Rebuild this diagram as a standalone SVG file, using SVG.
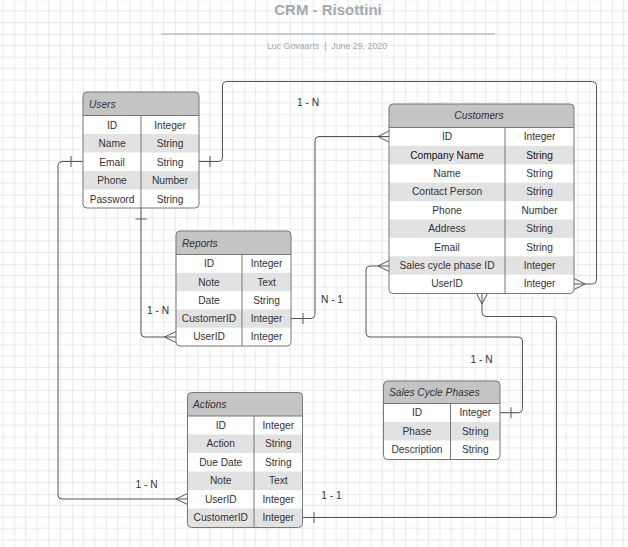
<svg xmlns="http://www.w3.org/2000/svg" width="628" height="547" viewBox="0 0 628 547">
<defs>
<pattern id="grid" patternUnits="userSpaceOnUse" x="14.3" y="34" width="57.5" height="57.5">
<path d="M11.5,0V57.5M23,0V57.5M34.5,0V57.5M46,0V57.5M0,11.5H57.5M0,23H57.5M0,34.5H57.5M0,46H57.5" stroke="#e9e9e9" stroke-width="1" fill="none"/>
<path d="M0,0V57.5M0,0H57.5" stroke="#d9d9d9" stroke-width="1" fill="none"/>
</pattern>
<clipPath id="cpU"><rect x="83" y="92" width="116" height="116" rx="4"/></clipPath>
<clipPath id="cpC"><rect x="389" y="104" width="185" height="189.5" rx="4"/></clipPath>
<clipPath id="cpR"><rect x="176" y="231" width="115" height="115" rx="4"/></clipPath>
<clipPath id="cpA"><rect x="187.5" y="392.5" width="115" height="135" rx="4"/></clipPath>
<clipPath id="cpS"><rect x="383.5" y="381" width="116.5" height="78.5" rx="4"/></clipPath>
</defs>
<style>
.bg{fill:#ffffff}
.frame{fill:none;stroke:#777777;stroke-width:1}
.hdr{fill:#c4c4c4}
.sh{fill:#e2e2e2}
.ln{stroke:#777777;stroke-width:1;fill:none}
.t{font-family:"Liberation Sans",Arial,sans-serif;font-size:10.2px;fill:#333333;text-anchor:middle}
.tb{fill:#111111}
.h{font-family:"Liberation Sans",Arial,sans-serif;font-size:10.2px;font-style:italic;fill:#333333}
.hc{text-anchor:middle}
.c{stroke:#555555;stroke-width:1;fill:none}
.lbl{font-family:"Liberation Sans",Arial,sans-serif;font-size:10.2px;fill:#333333;text-anchor:middle}
</style>
<rect width="628" height="547" fill="#ffffff"/>
<rect width="628" height="547" fill="url(#grid)"/>

<g id="title">
<text x="328" y="15" font-family="Liberation Sans, Arial, sans-serif" font-size="15" font-weight="bold" fill="#a3a9b1" text-anchor="middle">CRM - Risottini</text>
<line x1="161" y1="34" x2="495" y2="34" stroke="#9ba1a9" stroke-width="1"/>
<text x="327" y="49" font-family="Liberation Sans, Arial, sans-serif" font-size="8.8" fill="#a3a9b1" text-anchor="middle" xml:space="preserve">Luc Govaarts  |  June 29, 2020</text>
</g>

<g id="connectors">
<path class="c" d="M199,161.5H218.5Q222.5,161.5 222.5,157.5V85.5Q222.5,81.5 226.5,81.5H592.5Q596.5,81.5 596.5,85.5V280Q596.5,284 592.5,284H574"/>
<path class="c" d="M210,156V167M585,284L574,278.5M585,284L574,289.5"/>
<path class="c" d="M291,318.5H311Q315,318.5 315,314.5V140.5Q315,136.5 319,136.5H389"/>
<path class="c" d="M303,313V324M378,136.5L389,131M378,136.5L389,142"/>
<path class="c" d="M389,266H370Q366,266 366,270V333Q366,337 370,337H518.5Q522.5,337 522.5,341V408.7Q522.5,412.7 518.5,412.7H500"/>
<path class="c" d="M511,407.2V418.2M378,266L389,260.5M378,266L389,271.5"/>
<path class="c" d="M141,208V333Q141,337 145,337H176"/>
<path class="c" d="M135.5,219H146.5M164.5,337L176,331.5M164.5,337L176,342.5"/>
<path class="c" d="M83,161.5H62Q58,161.5 58,165.5V495Q58,499 62,499H187.5"/>
<path class="c" d="M71,156V167M176,499L187.5,493.5M176,499L187.5,504.5"/>
<path class="c" d="M482,293.5V312.5Q482,316.5 486,316.5H552.5Q556.5,316.5 556.5,320.5V513.5Q556.5,517.5 552.5,517.5H302.5"/>
<path class="c" d="M314,512V523M482,304L476.5,293.5M482,304L487.5,293.5"/>
<text class="lbl" x="308" y="105.5">1 - N</text>
<text class="lbl" x="332" y="302.5">N - 1</text>
<text class="lbl" x="481.5" y="362.5">1 - N</text>
<text class="lbl" x="158" y="313.5">1 - N</text>
<text class="lbl" x="146.5" y="487.5">1 - N</text>
<text class="lbl" x="331.5" y="498.5">1 - 1</text>
</g>

<g id="users">
<g clip-path="url(#cpU)">
<rect class="bg" x="83" y="92" width="116" height="116"/>
<rect class="hdr" x="83" y="92" width="116" height="23.5"/>
<rect class="sh" x="83" y="134" width="116" height="18.5"/>
<rect class="sh" x="83" y="171" width="116" height="18.5"/>
</g>
<line class="ln" x1="83" y1="115.5" x2="199" y2="115.5"/>
<line class="ln" x1="141" y1="115.5" x2="141" y2="208"/>
<rect class="frame" x="83" y="92" width="116" height="116" rx="4"/>
<text class="h" x="89" y="107.5">Users</text>
<text class="t" x="112" y="128.5">ID</text><text class="t" x="170" y="128.5">Integer</text>
<text class="t" x="112" y="147">Name</text><text class="t" x="170" y="147">String</text>
<text class="t" x="112" y="165.5">Email</text><text class="t" x="170" y="165.5">String</text>
<text class="t" x="112" y="184">Phone</text><text class="t" x="170" y="184">Number</text>
<text class="t" x="112" y="202.5">Password</text><text class="t" x="170" y="202.5">String</text>
</g>

<g id="customers">
<g clip-path="url(#cpC)">
<rect class="bg" x="389" y="104" width="185" height="189.5"/>
<rect class="hdr" x="389" y="104" width="185" height="23.5"/>
<rect class="sh" x="389" y="145.9" width="185" height="18.4"/>
<rect class="sh" x="389" y="182.7" width="185" height="18.4"/>
<rect class="sh" x="389" y="219.5" width="185" height="18.4"/>
<rect class="sh" x="389" y="256.3" width="185" height="18.4"/>
</g>
<line class="ln" x1="389" y1="127.5" x2="574" y2="127.5"/>
<line class="ln" x1="505" y1="127.5" x2="505" y2="293.5"/>
<rect class="frame" x="389" y="104" width="185" height="189.5" rx="4"/>
<text class="h hc" x="479" y="119">Customers</text>
<text class="t" x="447" y="140.2">ID</text><text class="t" x="539.5" y="140.2">Integer</text>
<text class="t tb" x="447" y="158.6">Company Name</text><text class="t tb" x="539.5" y="158.6">String</text>
<text class="t" x="447" y="177">Name</text><text class="t" x="539.5" y="177">String</text>
<text class="t" x="447" y="195.4">Contact Person</text><text class="t" x="539.5" y="195.4">String</text>
<text class="t" x="447" y="213.8">Phone</text><text class="t" x="539.5" y="213.8">Number</text>
<text class="t" x="447" y="232.2">Address</text><text class="t" x="539.5" y="232.2">String</text>
<text class="t" x="447" y="250.6">Email</text><text class="t" x="539.5" y="250.6">String</text>
<text class="t" x="447" y="269">Sales cycle phase ID</text><text class="t" x="539.5" y="269">Integer</text>
<text class="t" x="447" y="287.4">UserID</text><text class="t" x="539.5" y="287.4">Integer</text>
</g>

<g id="reports">
<g clip-path="url(#cpR)">
<rect class="bg" x="176" y="231" width="115" height="115"/>
<rect class="hdr" x="176" y="231" width="115" height="23.5"/>
<rect class="sh" x="176" y="272.8" width="115" height="18.3"/>
<rect class="sh" x="176" y="309.4" width="115" height="18.3"/>
</g>
<line class="ln" x1="176" y1="254.5" x2="291" y2="254.5"/>
<line class="ln" x1="242" y1="254.5" x2="242" y2="346"/>
<rect class="frame" x="176" y="231" width="115" height="115" rx="4"/>
<text class="h" x="182" y="246.5">Reports</text>
<text class="t" x="209" y="267.2">ID</text><text class="t" x="266.5" y="267.2">Integer</text>
<text class="t" x="209" y="285.5">Note</text><text class="t" x="266.5" y="285.5">Text</text>
<text class="t" x="209" y="303.8">Date</text><text class="t" x="266.5" y="303.8">String</text>
<text class="t" x="209" y="322.1">CustomerID</text><text class="t" x="266.5" y="322.1">Integer</text>
<text class="t" x="209" y="340.4">UserID</text><text class="t" x="266.5" y="340.4">Integer</text>
</g>

<g id="actions">
<g clip-path="url(#cpA)">
<rect class="bg" x="187.5" y="392.5" width="115" height="135"/>
<rect class="hdr" x="187.5" y="392.5" width="115" height="23.5"/>
<rect class="sh" x="187.5" y="434.5" width="115" height="18.5"/>
<rect class="sh" x="187.5" y="471.5" width="115" height="18.5"/>
<rect class="sh" x="187.5" y="508.5" width="115" height="19"/>
</g>
<line class="ln" x1="187.5" y1="416" x2="302.5" y2="416"/>
<line class="ln" x1="254" y1="416" x2="254" y2="527.5"/>
<rect class="frame" x="187.5" y="392.5" width="115" height="135" rx="4"/>
<text class="h" x="193" y="408">Actions</text>
<text class="t" x="220.75" y="428.8">ID</text><text class="t" x="278.25" y="428.8">Integer</text>
<text class="t" x="220.75" y="447.3">Action</text><text class="t" x="278.25" y="447.3">String</text>
<text class="t" x="220.75" y="465.8">Due Date</text><text class="t" x="278.25" y="465.8">String</text>
<text class="t" x="220.75" y="484.3">Note</text><text class="t" x="278.25" y="484.3">Text</text>
<text class="t" x="220.75" y="502.8">UserID</text><text class="t" x="278.25" y="502.8">Integer</text>
<text class="t" x="220.75" y="521.3">CustomerID</text><text class="t" x="278.25" y="521.3">Integer</text>
</g>

<g id="sales-cycle-phases">
<g clip-path="url(#cpS)">
<rect class="bg" x="383.5" y="381" width="116.5" height="78.5"/>
<rect class="hdr" x="383.5" y="381" width="116.5" height="22.5"/>
<rect class="sh" x="383.5" y="422" width="116.5" height="18.5"/>
</g>
<line class="ln" x1="383.5" y1="403.5" x2="500" y2="403.5"/>
<line class="ln" x1="450.5" y1="403.5" x2="450.5" y2="459.5"/>
<rect class="frame" x="383.5" y="381" width="116.5" height="78.5" rx="4"/>
<text class="h" x="389" y="396">Sales Cycle Phases</text>
<text class="t" x="417" y="416.3">ID</text><text class="t" x="475.25" y="416.3">Integer</text>
<text class="t" x="417" y="434.8">Phase</text><text class="t" x="475.25" y="434.8">String</text>
<text class="t" x="417" y="453.3">Description</text><text class="t" x="475.25" y="453.3">String</text>
</g>
</svg>
